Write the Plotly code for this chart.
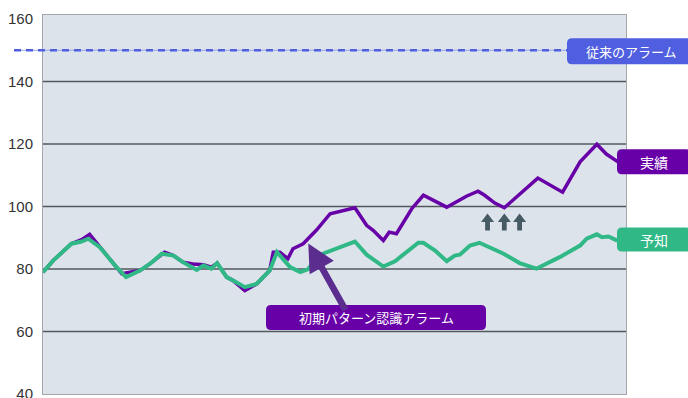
import plotly.graph_objects as go

# ---------------- data ----------------
x_actual = [0, 1.4, 3.9, 5.3, 6.4, 7.8, 9.9, 10.8, 13.3, 14.7, 16.7, 17.9, 19.2, 20.6, 22.0, 23.1,
            23.9, 25.2, 26.1, 27.7, 29.3, 31.1, 31.6, 32.5, 33.6, 34.3, 35.7, 36.4, 37.5, 39.4,
            42.8, 44.4, 45.3, 46.7, 47.5, 48.5, 50.6, 52.2, 55.4, 58.1, 59.7, 60.6, 62.0, 63.3,
            67.9, 71.3, 73.7, 76.0, 77.3, 78.9]
y_actual = [79, 82.7, 88.1, 89.4, 91.1, 87, 81.1, 78.5, 79.5, 81.7, 85.4, 84.3, 82.2, 81.6, 81.4, 80.6,
            81.9, 77.4, 76.3, 73.1, 75.2, 79.5, 85.4, 85.4, 83.3, 86.5, 88.1, 89.7, 92.4, 97.7,
            99.6, 94, 92.4, 89.1, 91.8, 91.3, 99.3, 103.6, 99.8, 103.3, 104.9, 103.6, 101.1, 99.6,
            109.1, 104.6, 114.3, 119.9, 116.8, 114.3]

x_forecast = [0, 1.4, 3.9, 5.3, 6.2, 7.8, 9.9, 11.4, 13.3, 14.7, 16.3, 17.9, 19.2, 21.1, 22.0, 23.1,
              23.9, 25.2, 26.1, 27.7, 29.3, 31.1, 32.1, 33.9, 35.3, 36.4, 37.1, 38.4, 42.8, 44.4,
              46.7, 48.3, 51.5, 52.2, 53.8, 55.4, 56.5, 57.2, 58.6, 59.9, 63.2, 65.4, 67.7, 70.9,
              73.7, 74.6, 76.0, 76.7, 77.6, 78.8]
y_forecast = [79, 82.7, 88.1, 88.8, 89.7, 87, 81.1, 77.4, 79.5, 81.7, 84.9, 84.3, 82.2, 79.7, 81.1, 80.1,
              81.9, 77.4, 76.3, 74.2, 75.2, 79.5, 85.4, 80.6, 79, 80, 82.2, 84.9, 88.8, 84.6,
              80.8, 82.5, 88.4, 88.4, 85.9, 82.5, 84.3, 84.6, 87.5, 88.4, 84.9, 81.9, 80.1, 83.8,
              87.5, 89.7, 91.1, 90.2, 90.4, 89.1]

y_ticks = [40, 60, 80, 100, 120, 140, 160]
grid_values = [60, 80, 100, 120, 140]
legacy_alarm_level = 150
label_legacy = "従来のアラーム"
label_actual = "実績"
label_forecast = "予知"
label_pattern = "初期パターン認識アラーム"
pattern_alarm_point = (36.4, 88.2)
rise_marks_x = [61.0, 63.3, 65.4]
rise_marks_y = 97.8

# ---------------- layout constants ----------------
FW, FH = 688, 398
L, T, R, B = 43, 15, 62, 4
W = FW - L - R
H = FH - T - B
Y0, Y1 = 40, 161.3
X0, X1 = 0, 80

C_ACT = "#6800a8"
C_FC = "#30b987"
C_LEG = "#4f5fe0"
C_ARROW = "#5a2d8f"
C_RISE = "#465a66"


def px2paper(px, py):
    return (px - L) / W, (T + H - py) / H


def val2py(v):
    return T + H * (Y1 - v) / (Y1 - Y0)


def rrect(x0, y0, x1, y1, r=5):
    # pixel rect -> rounded path in paper coords
    rx = r / W
    ry = r / H
    a0, b0 = px2paper(x0, y1)  # bottom-left
    a1, b1 = px2paper(x1, y0)  # top-right
    p = (f"M {a0+rx},{b0} L {a1-rx},{b0} Q {a1},{b0} {a1},{b0+ry} "
         f"L {a1},{b1-ry} Q {a1},{b1} {a1-rx},{b1} L {a0+rx},{b1} "
         f"Q {a0},{b1} {a0},{b1-ry} L {a0},{b0+ry} Q {a0},{b0} {a0+rx},{b0} Z")
    return p


fig = go.Figure()
fig.add_trace(go.Scatter(x=x_actual, y=y_actual, mode="lines", name=label_actual,
                         line=dict(color=C_ACT, width=3.5), hoverinfo="skip"))
fig.add_trace(go.Scatter(x=x_forecast, y=y_forecast, mode="lines", name=label_forecast,
                         line=dict(color=C_FC, width=4), hoverinfo="skip"))

shapes = []
for g in grid_values:
    shapes.append(dict(type="line", xref="paper", yref="y", x0=0, x1=1, y0=g, y1=g,
                       line=dict(color="#50585e", width=1.5), layer="below"))

# legacy alarm line
lx0, _ = px2paper(14, 0)
lx1, _ = px2paper(568, 0)
shapes.append(dict(type="line", xref="paper", yref="y", x0=lx0, x1=lx1,
                   y0=legacy_alarm_level, y1=legacy_alarm_level,
                   line=dict(color="#9aa6ea", width=1)))
shapes.append(dict(type="line", xref="paper", yref="y", x0=lx0, x1=lx1,
                   y0=legacy_alarm_level, y1=legacy_alarm_level,
                   line=dict(color=C_LEG, width=2.5, dash="7px,5px")))

annotations = []


def label_box(text, cx_left, cy, color, w, h=25, font=13):
    shapes.append(dict(type="path", xref="paper", yref="paper",
                       path=rrect(cx_left, cy - h / 2, cx_left + w, cy + h / 2),
                       fillcolor=color, line=dict(width=0)))
    ax, ay = px2paper(cx_left + w / 2, cy)
    annotations.append(dict(text=text, xref="paper", yref="paper", x=ax, y=ay,
                            xanchor="center", yanchor="middle", showarrow=False,
                            font=dict(color="white", size=font, family="Noto Sans CJK JP")))


label_box(label_legacy, 567, val2py(legacy_alarm_level) + 1, C_LEG, 128, 26)
label_box(label_actual, 617, val2py(y_actual[-1]), C_ACT, 74, 25, 14)
label_box(label_forecast, 617, val2py(y_forecast[-1]) - 1, C_FC, 74, 24, 14)

# pattern alarm arrow + box
annotations.append(dict(x=pattern_alarm_point[0], y=pattern_alarm_point[1], xref="x", yref="y",
                        text="", showarrow=True, ax=38, ay=68, arrowcolor=C_ARROW,
                        arrowwidth=6.5, arrowhead=2, arrowsize=0.85, standoff=0, startstandoff=0))
label_box(label_pattern, 266, 317.5, C_ACT, 220, 25)

# rising marks: small up arrows (pixel-sized polygons anchored at data points)
up_arrow = "M 0,0 L 6.5,-8.5 L 2.4,-8.5 L 2.4,-17 L -2.4,-17 L -2.4,-8.5 L -6.5,-8.5 Z"
for rx in rise_marks_x:
    shapes.append(dict(type="path", xref="x", yref="y", xsizemode="pixel", ysizemode="pixel",
                       xanchor=rx, yanchor=rise_marks_y, path=up_arrow,
                       fillcolor=C_RISE, line=dict(width=0)))

fig.update_layout(
    width=FW, height=FH,
    margin=dict(l=L, r=R, t=T, b=B, autoexpand=False),
    paper_bgcolor="white", plot_bgcolor="#dde3ea",
    showlegend=False,
    shapes=shapes, annotations=annotations,
    xaxis=dict(range=[X0, X1], showgrid=False, zeroline=False, showticklabels=False,
               ticks="", showline=True, mirror=True, linecolor="#a3a7ab", linewidth=1),
    yaxis=dict(range=[Y0, Y1], tickvals=y_ticks, showgrid=False, zeroline=False,
               ticks="", showline=True, mirror=True, linecolor="#a3a7ab", linewidth=1,
               tickfont=dict(size=15, color="#333333", family="Liberation Sans"),
               ticklabelstandoff=6, ticklabeloverflow="allow"),
)

fig.write_html("out.html")
